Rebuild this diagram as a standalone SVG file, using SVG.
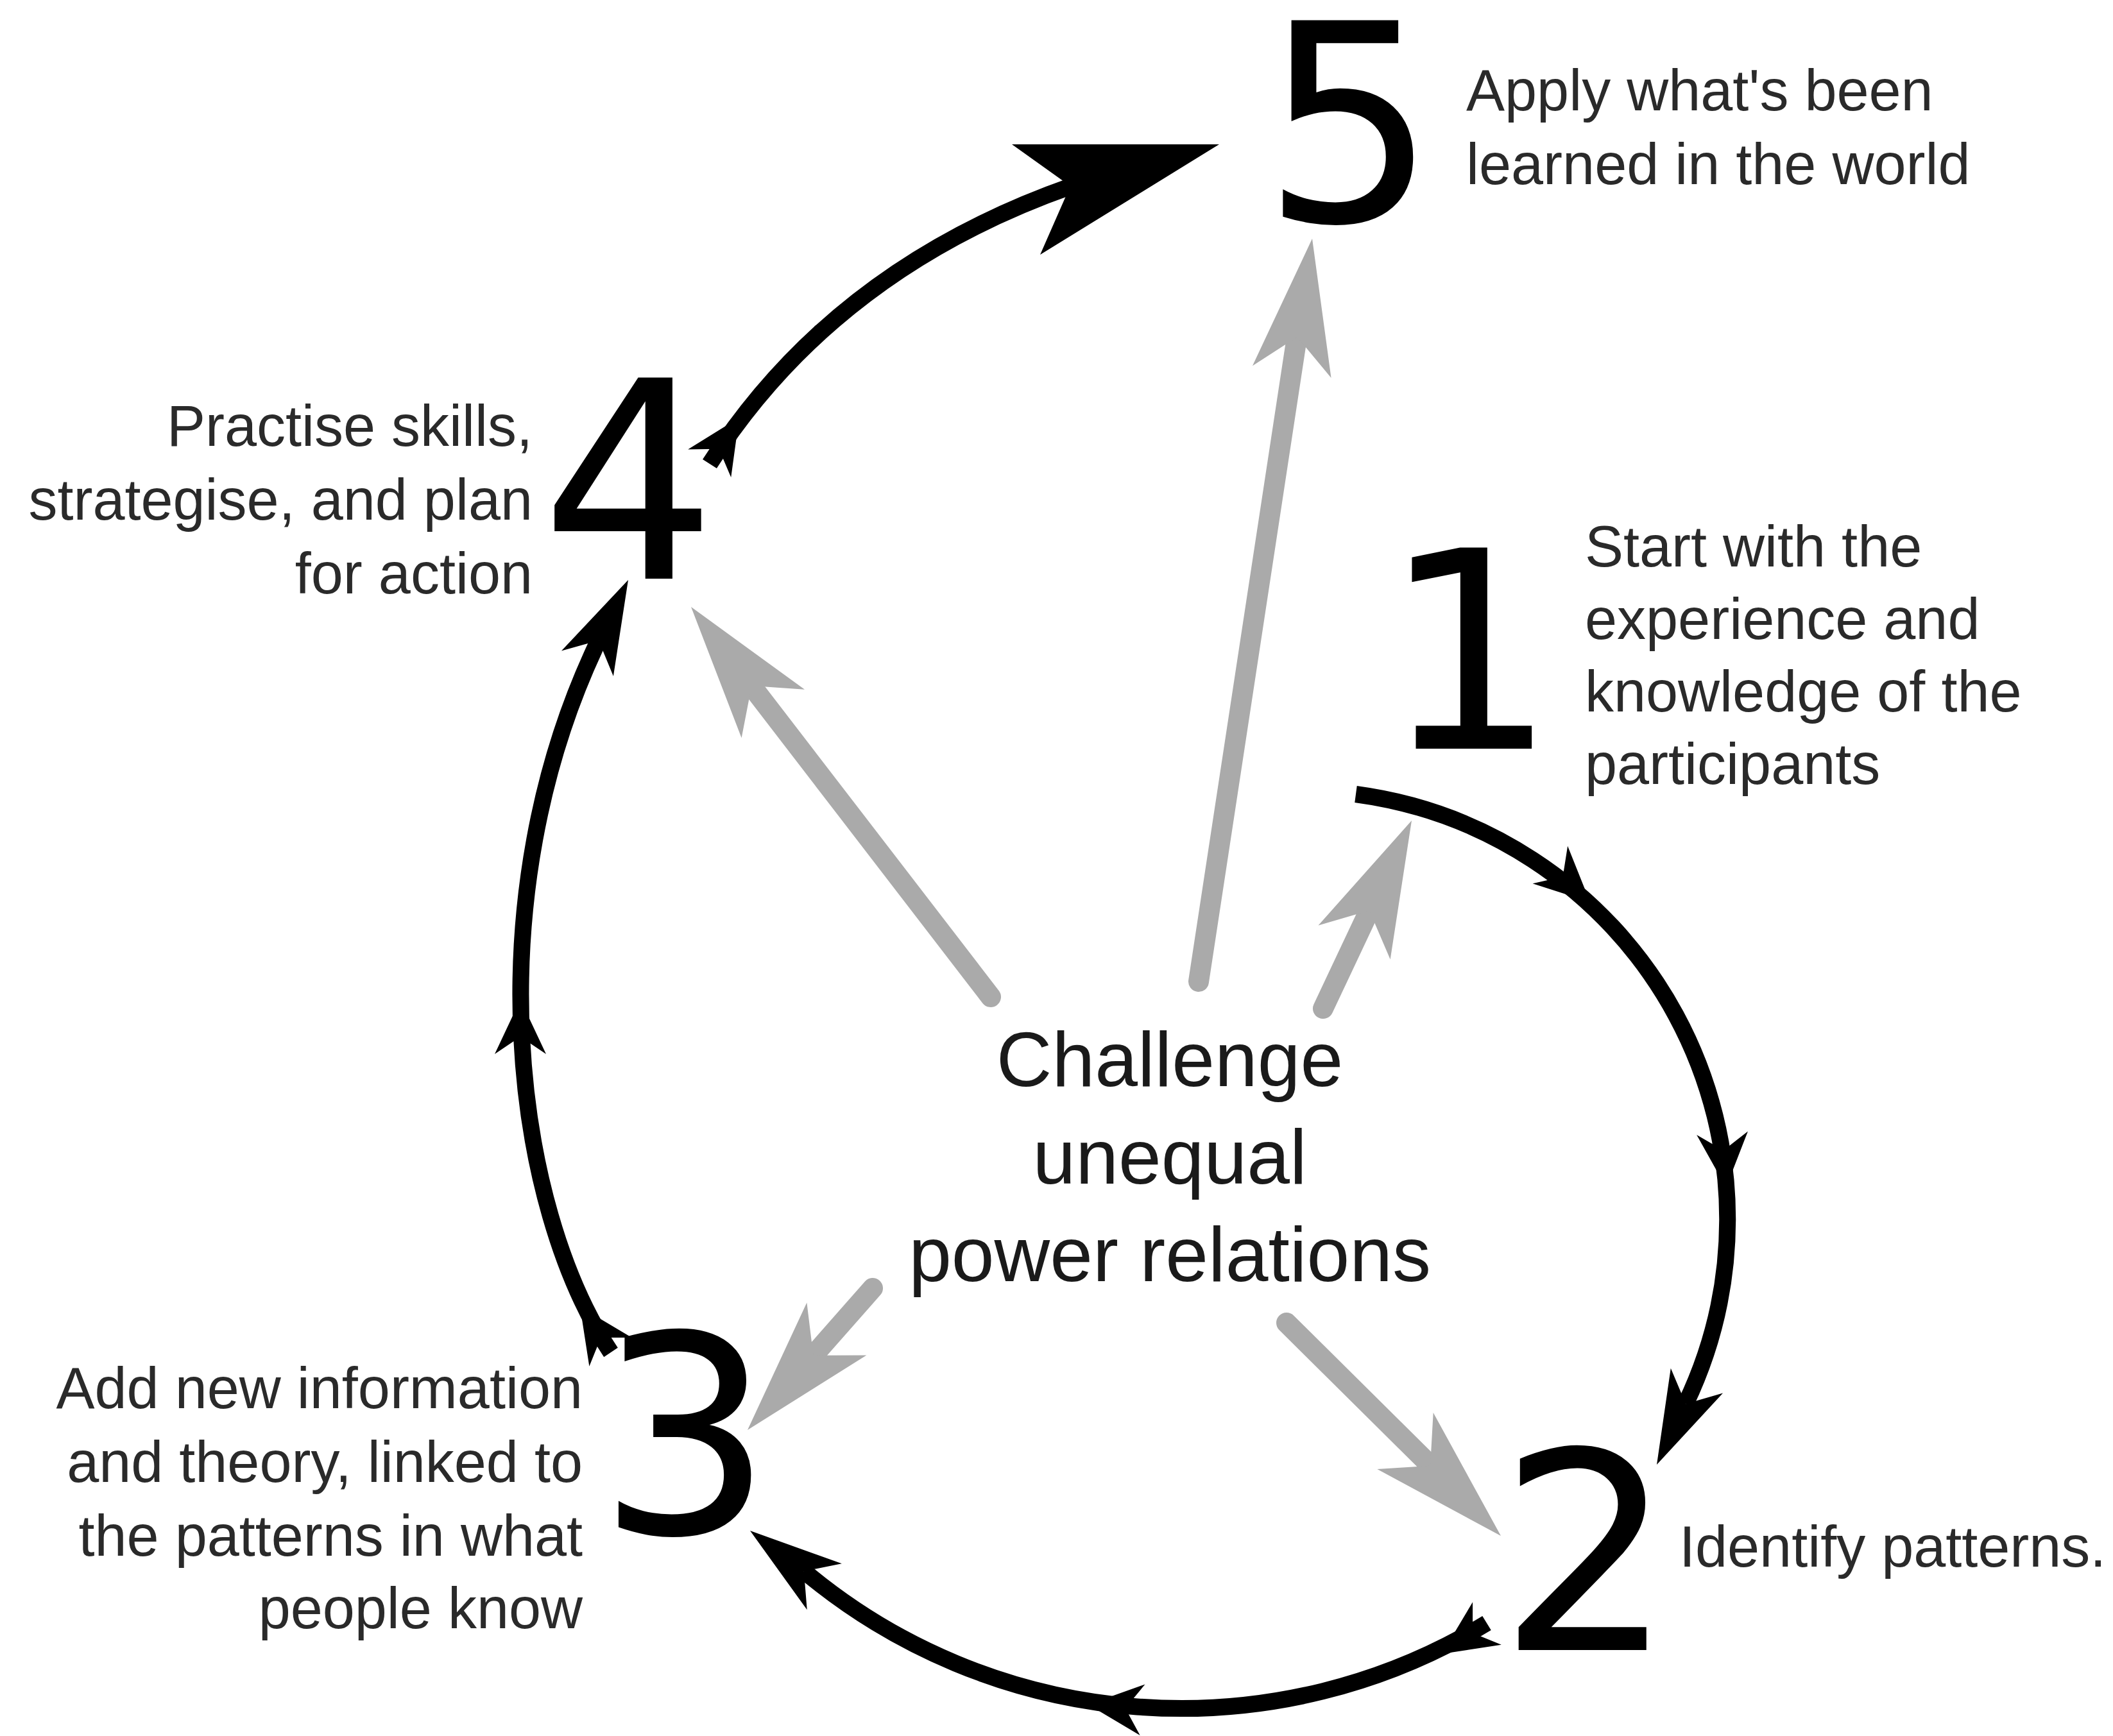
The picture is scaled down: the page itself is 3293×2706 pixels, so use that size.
<svg xmlns="http://www.w3.org/2000/svg" xmlns:xlink="http://www.w3.org/1999/xlink" width="3293" height="2706" viewBox="0 0 3293 2706">
<style>
.bg{fill:#ffffff}
.arc{fill:none;stroke:#000;stroke-width:26;stroke-linecap:butt}
.ray{fill:none;stroke:#aaaaaa;stroke-width:32;stroke-linecap:round}
.bh{fill:#000}
.gh{fill:#aaaaaa}
.num{font-family:"DejaVu Sans",sans-serif;font-size:430px;fill:#000;text-anchor:middle}
.lbl{font-family:"Liberation Sans",Arial,sans-serif;font-size:90px;fill:#2a2a2a}
.end{text-anchor:end}
.ctr{font-family:"Liberation Sans",Arial,sans-serif;font-size:120px;fill:#1a1a1a;text-anchor:middle}
</style>
<defs>
<path id="headMid" d="M0,0 L-85,-40 L-58,0 L-85,40 Z"/>
<path id="headEnd" d="M0,0 L-145,-45 L-105,0 L-145,45 Z"/>
<path id="headGray" d="M0,0 L-210,-62 L-155,0 L-210,62 Z"/>
</defs>
<rect class="bg" x="0" y="0" width="3293" height="2706"/>

<g id="connectors">
  <!-- gray rays from centre -->
  <line class="ray" x1="1544" y1="1554" x2="1168" y2="1065"/>
  <use href="#headGray" class="gh" transform="translate(1077,946) rotate(-127.5)"/>
  <line class="ray" x1="1868" y1="1530" x2="2022" y2="520"/>
  <use href="#headGray" class="gh" transform="translate(2045,372) rotate(-81.3)"/>
  <line class="ray" x1="2062" y1="1572" x2="2136" y2="1415"/>
  <use href="#headGray" class="gh" transform="translate(2200,1279) rotate(-64.8)"/>
  <line class="ray" x1="1360" y1="2008" x2="1264" y2="2117"/>
  <use href="#headGray" class="gh" transform="translate(1165,2229) rotate(131.4)"/>
  <line class="ray" x1="2005" y1="2062" x2="2233" y2="2288"/>
  <use href="#headGray" class="gh" transform="translate(2339,2394) rotate(44.8)"/>

  <!-- 1 to 2 -->
  <path class="arc" d="M2113,1238 A668,668 0 0 1 2627,2188"/>
  <use href="#headMid" class="bh" transform="translate(2478,1406) rotate(43)"/>
  <use href="#headMid" class="bh" transform="translate(2690,1851) rotate(86)"/>
  <use href="#headEnd" class="bh" transform="translate(2582,2283) rotate(115.5)"/>

  <!-- 2 to 3 -->
  <path class="arc" d="M2317,2530 A916,916 0 0 1 1253,2449"/>
  <use href="#headMid" class="bh" transform="translate(2247,2578) rotate(146)"/>
  <use href="#headMid" class="bh" transform="translate(1696,2657) rotate(185.6)"/>
  <use href="#headEnd" class="bh" transform="translate(1169,2386) rotate(217)"/>

  <!-- 3 to 4 -->
  <path class="arc" d="M952,2108 C800,1880 740,1400 933,998"/>
  <use href="#headMid" class="bh" transform="translate(904,2037) rotate(-124)"/>
  <use href="#headMid" class="bh" transform="translate(811,1558) rotate(-90)"/>
  <use href="#headEnd" class="bh" transform="translate(979,904) rotate(-64)"/>

  <!-- 4 to 5 -->
  <path class="arc" d="M1106,723 Q1300,420 1670,290"/>
  <use href="#headMid" class="bh" transform="translate(1152,651) rotate(-57)"/>
  <path class="bh" d="M1900,225 L1621,397 L1668,290 L1577,225 Z"/>
</g>

<g id="node-center">
  <text class="ctr" x="1823" y="1693">Challenge</text>
  <text class="ctr" x="1823" y="1845">unequal</text>
  <text class="ctr" x="1823" y="1997">power relations</text>
</g>

<g id="node-1">
  <text class="num" x="2290" y="1167">1</text>
  <text class="lbl" x="2470" y="883">Start with the</text>
  <text class="lbl" x="2470" y="996">experience and</text>
  <text class="lbl" x="2470" y="1109">knowledge of the</text>
  <text class="lbl" x="2470" y="1222">participants</text>
</g>

<g id="node-2">
  <text class="num" x="2472" y="2572">2</text>
  <text class="lbl" x="2617" y="2442">Identify patterns.</text>
</g>

<g id="node-3">
  <text class="num" x="1068" y="2390">3</text>
  <text class="lbl end" x="908" y="2195">Add new information</text>
  <text class="lbl end" x="908" y="2310">and theory, linked to</text>
  <text class="lbl end" x="908" y="2425">the patterns in what</text>
  <text class="lbl end" x="908" y="2538">people know</text>
</g>

<g id="node-4">
  <text class="num" x="980" y="902">4</text>
  <text class="lbl end" x="830" y="695">Practise skills,</text>
  <text class="lbl end" x="830" y="810">strategise, and plan</text>
  <text class="lbl end" x="830" y="925">for action</text>
</g>

<g id="node-5">
  <text class="num" x="2103" y="345">5</text>
  <text class="lbl" x="2285" y="172">Apply what's been</text>
  <text class="lbl" x="2285" y="287">learned in the world</text>
</g>
</svg>
